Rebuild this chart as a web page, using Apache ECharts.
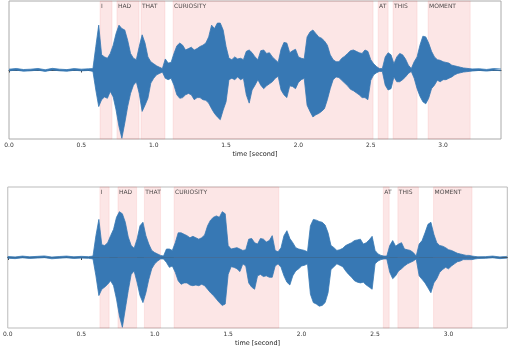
<!DOCTYPE html>
<html>
<head>
<meta charset="utf-8">
<script src="https://cdn.jsdelivr.net/npm/echarts@6/dist/echarts.min.js"></script>
<style>
    html, body { margin: 0; padding: 0; background: #fff; }
    #chart { width: 508px; height: 348px; }
</style>
</head>
<body>
<div id="chart"></div>
<script>
// 采样时间 (秒)
var sampleTimes = [
    0, 0.05, 0.1, 0.15, 0.2, 0.25, 0.3, 0.35, 0.4, 0.45, 0.5, 0.55,
    0.58, 0.6, 0.62, 0.64, 0.66, 0.68, 0.7, 0.72, 0.74, 0.76, 0.78, 0.8, 0.82, 0.84, 0.86, 0.88,
    0.9, 0.92, 0.94, 0.96, 0.98, 1.0, 1.02, 1.04, 1.06, 1.08, 1.1, 1.12, 1.14, 1.16, 1.18,
    1.2, 1.22, 1.24, 1.26, 1.28, 1.3, 1.32, 1.34, 1.36, 1.38, 1.4, 1.42, 1.44, 1.46, 1.48,
    1.5, 1.52, 1.54, 1.56, 1.58, 1.6, 1.62, 1.64, 1.66, 1.68, 1.7, 1.72, 1.74, 1.76, 1.78,
    1.8, 1.82, 1.84, 1.86, 1.88, 1.9, 1.92, 1.94, 1.96, 1.98, 2.0, 2.02, 2.04, 2.06, 2.08,
    2.1, 2.12, 2.14, 2.16, 2.18, 2.2, 2.22, 2.24, 2.26, 2.28, 2.3, 2.32, 2.34, 2.36, 2.38,
    2.4, 2.42, 2.44, 2.46, 2.48, 2.5, 2.52, 2.54, 2.56, 2.58, 2.6, 2.62, 2.64, 2.66, 2.68,
    2.7, 2.72, 2.74, 2.76, 2.78, 2.8, 2.82, 2.84, 2.86, 2.88, 2.9, 2.92, 2.94, 2.96, 2.98,
    3.0, 3.02, 3.04, 3.06, 3.08, 3.1, 3.12, 3.14, 3.16, 3.18, 3.2,
    3.25, 3.3, 3.35, 3.4
];

// 上图波形包络
var topUpper = [
    0.012, 0.022, 0.007, 0.012, 0.022, 0.004, 0.024, 0.012, 0.006, 0.020, 0.012, 0.017,
    0.02, 0.34, 0.65, 0.22, 0.19, 0.17, 0.24, 0.36, 0.53, 0.65, 0.60, 0.58, 0.43, 0.24, 0.17, 0.15,
    0.34, 0.51, 0.39, 0.19, 0.12, 0.09, 0.06, 0.04, 0.02, 0.16, 0.10, 0.11, 0.24, 0.35, 0.39,
    0.36, 0.29, 0.31, 0.33, 0.29, 0.31, 0.34, 0.36, 0.39, 0.48, 0.65, 0.60, 0.68, 0.68, 0.58,
    0.34, 0.17, 0.15, 0.19, 0.16, 0.17, 0.15, 0.27, 0.29, 0.25, 0.19, 0.15, 0.28, 0.29, 0.24,
    0.25, 0.19, 0.15, 0.11, 0.30, 0.40, 0.39, 0.25, 0.28, 0.30, 0.19, 0.17, 0.16, 0.48, 0.55,
    0.58, 0.53, 0.48, 0.46, 0.42, 0.36, 0.22, 0.15, 0.12, 0.12, 0.17, 0.20, 0.24, 0.28, 0.29,
    0.27, 0.25, 0.24, 0.29, 0.27, 0.15, 0.09, 0.05, 0.02, 0.02, 0.19, 0.25, 0.22, 0.09, 0.19,
    0.24, 0.22, 0.16, 0.07, 0.02, 0.12, 0.19, 0.36, 0.49, 0.48, 0.39, 0.27, 0.19, 0.15, 0.14,
    0.12, 0.11, 0.10, 0.07, 0.06, 0.05, 0.04, 0.03, 0.025, 0.02, 0.015,
    0.018, 0.008, 0.020, 0.014
];
var topLower = [
    -0.012, -0.002, -0.017, -0.012, -0.002, -0.020, 0.000, -0.012, -0.018, -0.004, -0.012, -0.007,
    -0.02, -0.29, -0.53, -0.43, -0.39, -0.41, -0.31, -0.39, -0.58, -0.82, -0.99, -0.77, -0.53, -0.34, -0.22, -0.17,
    -0.34, -0.60, -0.51, -0.41, -0.19, -0.12, -0.07, -0.05, -0.03, -0.12, -0.14, -0.12, -0.22, -0.36, -0.41,
    -0.40, -0.36, -0.34, -0.36, -0.43, -0.40, -0.40, -0.43, -0.44, -0.48, -0.56, -0.63, -0.68, -0.72, -0.58,
    -0.46, -0.14, -0.12, -0.14, -0.10, -0.14, -0.12, -0.36, -0.48, -0.29, -0.22, -0.14, -0.22, -0.27, -0.23,
    -0.20, -0.17, -0.12, -0.09, -0.29, -0.36, -0.40, -0.23, -0.24, -0.27, -0.18, -0.14, -0.12, -0.51, -0.60,
    -0.68, -0.65, -0.63, -0.60, -0.56, -0.43, -0.27, -0.14, -0.10, -0.11, -0.15, -0.19, -0.23, -0.28, -0.30,
    -0.33, -0.36, -0.40, -0.40, -0.43, -0.15, -0.07, -0.04, -0.02, -0.02, -0.22, -0.29, -0.27, -0.10, -0.17,
    -0.17, -0.14, -0.10, -0.05, -0.02, -0.12, -0.27, -0.38, -0.46, -0.49, -0.41, -0.27, -0.22, -0.15, -0.17,
    -0.14, -0.14, -0.12, -0.10, -0.07, -0.05, -0.04, -0.03, -0.025, -0.02, -0.015,
    -0.006, -0.016, -0.004, -0.010
];

// 下图波形包络
var bottomUpper = [
    0.014, 0.008, 0.020, 0.010, 0.016, 0.022, 0.006, 0.014, 0.020, 0.010, 0.016, 0.012,
    0.02, 0.31, 0.54, 0.18, 0.17, 0.21, 0.31, 0.40, 0.57, 0.65, 0.62, 0.50, 0.29, 0.17, 0.13, 0.26,
    0.45, 0.50, 0.31, 0.19, 0.10, 0.07, 0.05, 0.03, 0.02, 0.12, 0.12, 0.10, 0.21, 0.35, 0.35,
    0.33, 0.31, 0.28, 0.30, 0.28, 0.26, 0.28, 0.32, 0.45, 0.53, 0.57, 0.59, 0.57, 0.65, 0.62,
    0.17, 0.12, 0.13, 0.14, 0.12, 0.10, 0.11, 0.26, 0.27, 0.21, 0.19, 0.27, 0.26, 0.22, 0.24,
    0.31, 0.10, 0.08, 0.14, 0.31, 0.38, 0.27, 0.21, 0.14, 0.12, 0.11, 0.10, 0.08, 0.45, 0.54,
    0.53, 0.51, 0.50, 0.46, 0.35, 0.17, 0.14, 0.10, 0.11, 0.13, 0.17, 0.19, 0.21, 0.24, 0.25,
    0.26, 0.19, 0.21, 0.25, 0.30, 0.10, 0.05, 0.03, 0.02, 0.02, 0.17, 0.24, 0.16, 0.19, 0.21,
    0.12, 0.11, 0.10, 0.07, 0.02, 0.19, 0.24, 0.35, 0.47, 0.50, 0.33, 0.21, 0.17, 0.16, 0.14,
    0.11, 0.10, 0.08, 0.06, 0.05, 0.04, 0.03, 0.03, 0.02, 0.015, 0.01,
    0.012, 0.020, 0.008, 0.016
];
var bottomLower = [
    -0.010, -0.016, -0.004, -0.014, -0.008, -0.002, -0.018, -0.010, -0.004, -0.014, -0.008, -0.012,
    -0.02, -0.26, -0.54, -0.45, -0.42, -0.38, -0.33, -0.40, -0.59, -0.83, -0.99, -0.73, -0.47, -0.24, -0.19, -0.35,
    -0.54, -0.64, -0.50, -0.31, -0.16, -0.09, -0.05, -0.02, -0.02, -0.07, -0.14, -0.12, -0.21, -0.33, -0.38,
    -0.36, -0.36, -0.39, -0.40, -0.39, -0.40, -0.38, -0.40, -0.45, -0.50, -0.54, -0.59, -0.64, -0.68, -0.66,
    -0.24, -0.13, -0.14, -0.16, -0.20, -0.09, -0.12, -0.36, -0.42, -0.45, -0.26, -0.24, -0.27, -0.26, -0.28,
    -0.28, -0.12, -0.09, -0.14, -0.26, -0.35, -0.39, -0.26, -0.19, -0.16, -0.12, -0.11, -0.09, -0.52, -0.64,
    -0.66, -0.69, -0.68, -0.64, -0.50, -0.17, -0.13, -0.09, -0.11, -0.13, -0.19, -0.24, -0.28, -0.33, -0.35,
    -0.36, -0.35, -0.39, -0.42, -0.45, -0.09, -0.05, -0.03, -0.02, -0.02, -0.21, -0.30, -0.26, -0.19, -0.16,
    -0.12, -0.09, -0.07, -0.05, -0.02, -0.26, -0.31, -0.36, -0.43, -0.50, -0.36, -0.30, -0.21, -0.17, -0.14,
    -0.16, -0.12, -0.09, -0.06, -0.05, -0.03, -0.03, -0.03, -0.03, -0.02, -0.015,
    -0.012, -0.004, -0.016, -0.008
];

// 单词标注
var words = ['I', 'HAD', 'THAT', 'CURIOSITY', 'AT', 'THIS', 'MOMENT'];
var topStarts = [0.629, 0.746, 0.912, 1.134, 2.551, 2.654, 2.896];
var topEnds = [0.712, 0.899, 1.078, 2.516, 2.620, 2.820, 3.187];
var bottomStarts = [0.627, 0.750, 0.930, 1.132, 2.556, 2.655, 2.898];
var bottomEnds = [0.690, 0.877, 1.040, 1.845, 2.596, 2.795, 3.160];

var tickValues = [0, 0.5, 1.0, 1.5, 2.0, 2.5, 3.0];

var waveColor = '#3778b4';

function spanData(starts, ends) {
    return words.map(function (w, i) {
        return [{ xAxis: starts[i] }, { xAxis: ends[i] }];
    });
}

// 上下包络各自填充到 0
function waveSeries(idx, upper, lower) {
    return [upper, lower].map(function (arr) {
        return {
            type: 'line',
            xAxisIndex: idx,
            yAxisIndex: idx,
            data: sampleTimes.map(function (t, i) { return [t, arr[i]]; }),
            symbol: 'none',
            silent: true,
            animation: false,
            z: 3,
            lineStyle: { color: waveColor, width: 0.8 },
            areaStyle: { color: waveColor, opacity: 1, origin: 0 }
        };
    });
}

function spanSeries(idx, starts, ends) {
    return {
        type: 'scatter',
        xAxisIndex: idx,
        yAxisIndex: idx,
        data: words.map(function (w, i) { return [starts[i], 1, w]; }),
        symbolSize: 0.1,
        silent: true,
        animation: false,
        z: 1,
        label: {
            show: true,
            position: [1, 2],
            align: 'left',
            verticalAlign: 'top',
            color: '#222',
            fontSize: 6,
            fontFamily: 'DejaVu Sans',
            formatter: function (p) { return p.value[2]; }
        },
        markArea: {
            silent: true,
            itemStyle: {
                color: 'rgba(240,128,128,0.2)',
                borderColor: 'rgba(240,128,128,0.25)',
                borderWidth: 0.6
            },
            data: spanData(starts, ends)
        }
    };
}

function xAxisOf(idx, gap) {
    return {
        type: 'value',
        gridIndex: idx,
        min: 0,
        max: 3.4,
        interval: 0.5,
        name: 'time [second]',
        nameLocation: 'middle',
        nameGap: gap,
        nameTextStyle: { fontSize: 6.5, color: '#222', fontFamily: 'DejaVu Sans' },
        axisLine: { lineStyle: { color: '#444', width: 1 } },
        axisTick: { show: true, length: 2.5, inside: false, customValues: tickValues, lineStyle: { color: '#444' } },
        axisLabel: {
            fontSize: 6,
            color: '#333',
            margin: 3,
            fontFamily: 'DejaVu Sans',
            customValues: tickValues,
            formatter: function (v) { return v.toFixed(1); }
        },
        splitLine: { show: false }
    };
}

function yAxisOf(idx) {
    return {
        type: 'value',
        gridIndex: idx,
        min: -1,
        max: 1,
        axisLine: { show: false },
        axisTick: { show: false },
        axisLabel: { show: false },
        splitLine: { show: false }
    };
}

var option = {
    backgroundColor: '#fff',
    animation: false,
    grid: [
        { left: 9, top: 1, width: 492, height: 138, show: true, borderColor: '#aaa', borderWidth: 1 },
        { left: 4.3, top: 187, width: 503, height: 141, show: true, borderColor: '#bbb', borderWidth: 1 }
    ],
    xAxis: [xAxisOf(0, 12), xAxisOf(1, 12)],
    yAxis: [yAxisOf(0), yAxisOf(1)],
    series: [spanSeries(0, topStarts, topEnds)]
        .concat(waveSeries(0, topUpper, topLower))
        .concat([spanSeries(1, bottomStarts, bottomEnds)])
        .concat(waveSeries(1, bottomUpper, bottomLower))
};

var myChart = echarts.init(document.querySelector('#chart'));
myChart.setOption(option);
</script>
</body>
</html>
